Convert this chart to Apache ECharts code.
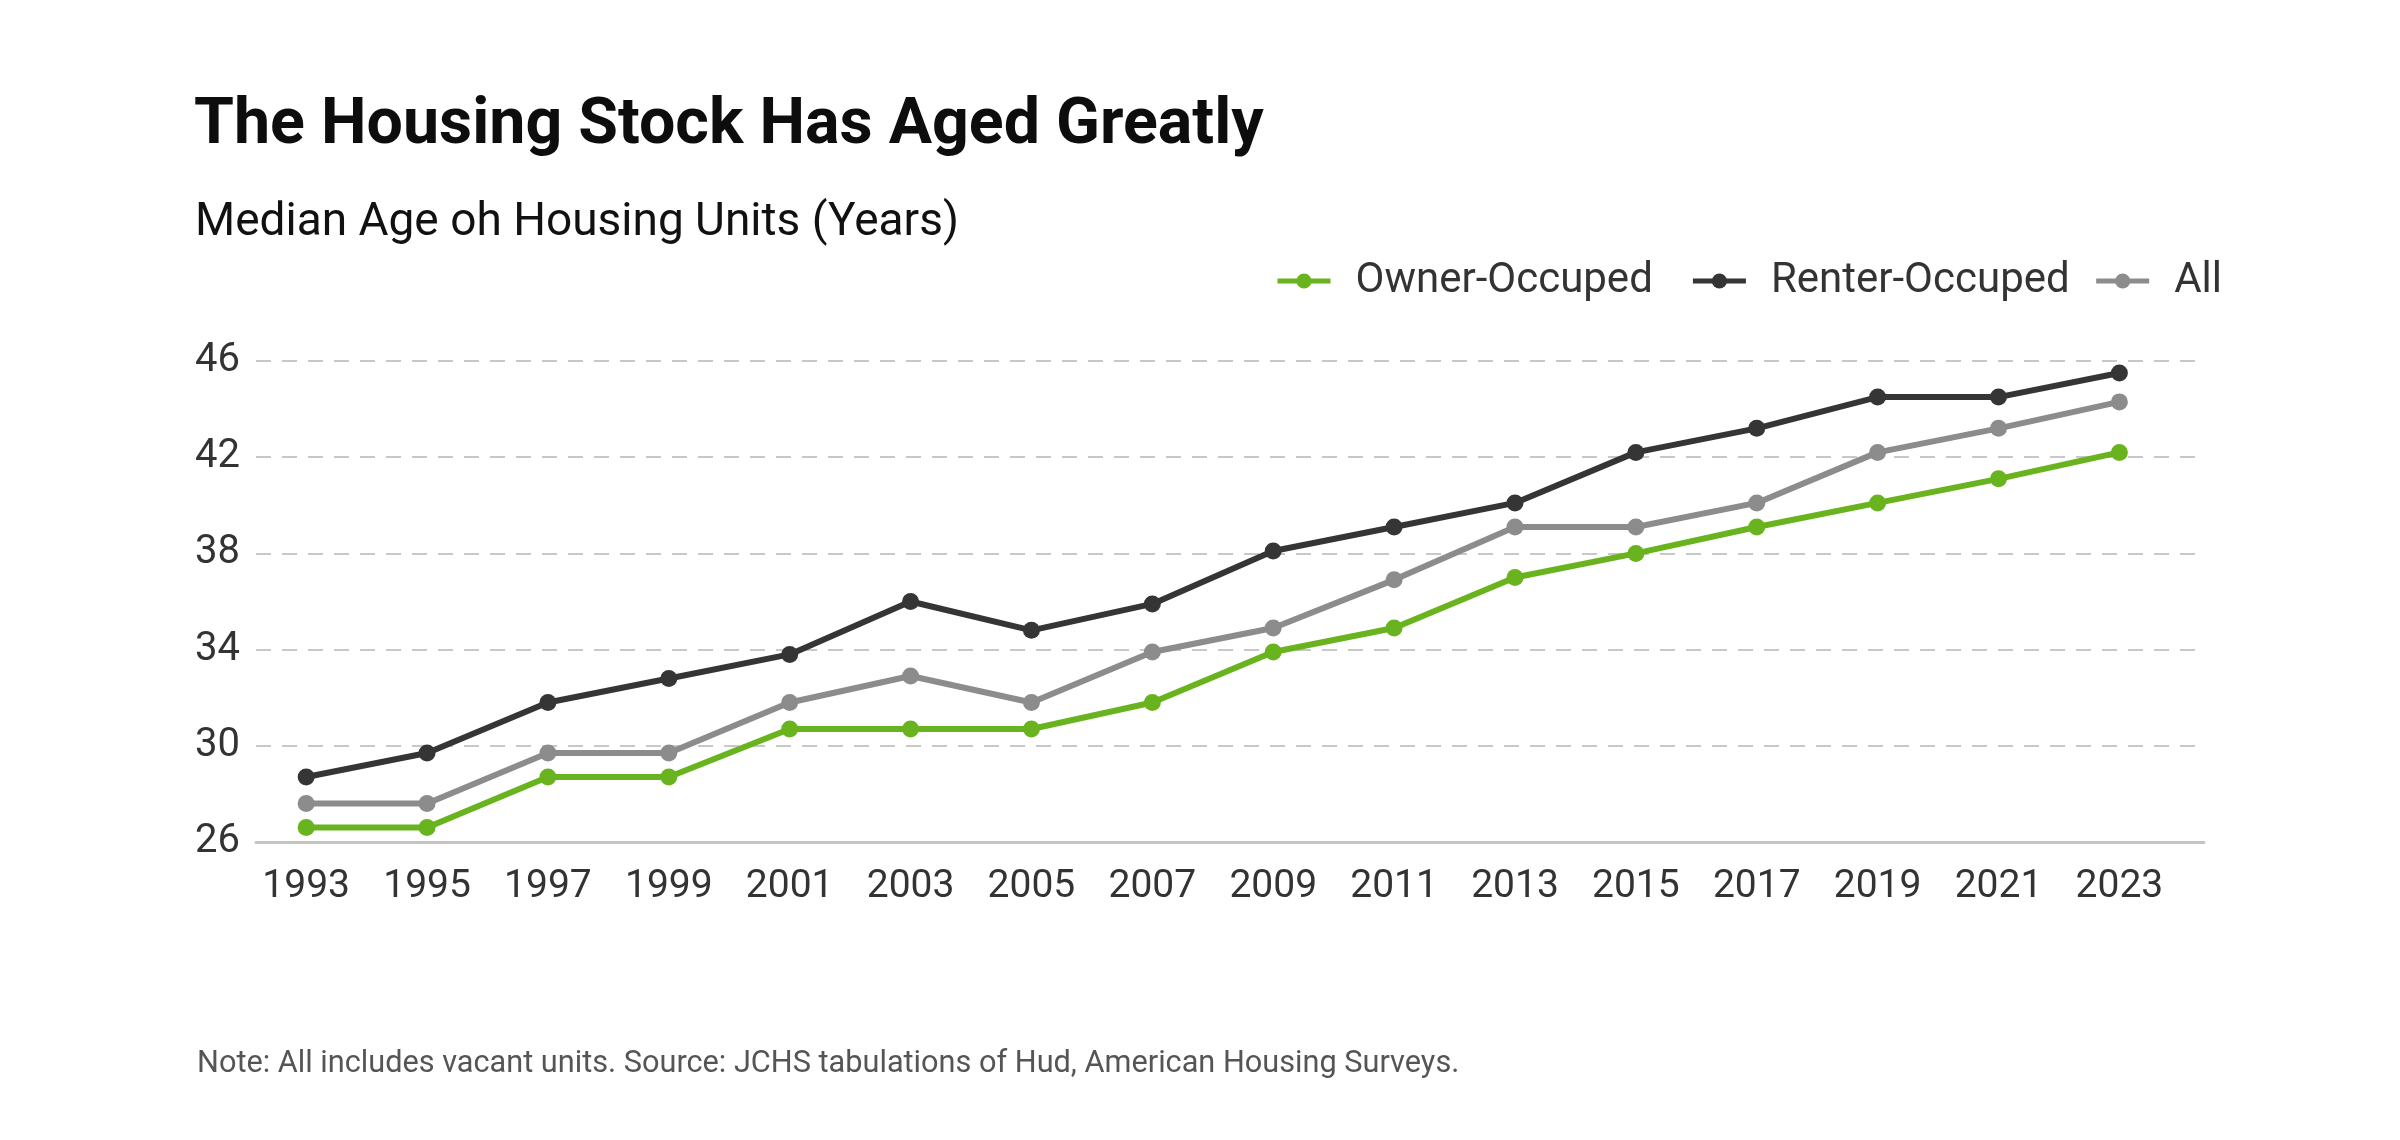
<!DOCTYPE html>
<html>
<head>
<meta charset="utf-8">
<style>
  html, body { margin: 0; padding: 0; background: #fff; }
  #main { width: 2400px; height: 1140px; }
</style>
<script src="https://cdn.jsdelivr.net/npm/echarts@6/dist/echarts.min.js"></script>
</head>
<body>
<div id="main"></div>
<script>
// data
var years = [1993, 1995, 1997, 1999, 2001, 2003, 2005, 2007, 2009, 2011, 2013, 2015, 2017, 2019, 2021, 2023];
var ownerOccupied  = [26.6, 26.6, 28.7, 28.7, 30.7, 30.7, 30.7, 31.8, 33.9, 34.9, 37.0, 38.0, 39.1, 40.1, 41.1, 42.2];
var renterOccupied = [28.7, 29.7, 31.8, 32.8, 33.8, 36.0, 34.8, 35.9, 38.1, 39.1, 40.1, 42.2, 43.2, 44.5, 44.5, 45.5];
var allUnits       = [27.6, 27.6, 29.7, 29.7, 31.8, 32.9, 31.8, 33.9, 34.9, 36.9, 39.1, 39.1, 40.1, 42.2, 43.2, 44.3];
var yTicks = [26, 30, 34, 38, 42, 46];

var FONT = 'Roboto';

function pairs(arr) {
    return arr.map(function (v, i) { return [years[i], v]; });
}

var myChart = echarts.init(document.getElementById('main'));

function lineSeries(name, color, data) {
    return {
        name: name,
        type: 'line',
        data: pairs(data),
        symbol: 'circle',
        symbolSize: 17,
        lineStyle: { width: 6, color: color },
        itemStyle: { color: color },
        emphasis: { disabled: true }
    };
}

// shared legend look; split in two so the gaps can differ like the original
var legendBase = {
    top: 255,
    itemWidth: 53,
    itemHeight: 19,
    itemGap: 24,
    lineStyle: { width: 5 },
    textStyle: { fontFamily: FONT, fontSize: 42, color: '#333', padding: [0, 0, 0, 20] }
};

var option = {
    animation: false,
    backgroundColor: '#fff',
    textStyle: { fontFamily: FONT },
    title: [
        {
            text: 'The Housing Stock Has Aged Greatly',
            left: 189,
            top: 89,
            textStyle: { fontFamily: FONT, fontSize: 64.5, fontWeight: 'bold', color: '#0d0d0d' }
        },
        {
            text: 'Median Age oh Housing Units (Years)',
            left: 190,
            top: 195,
            textStyle: { fontFamily: FONT, fontSize: 46, fontWeight: 'normal', color: '#111' }
        },
        {
            text: 'Note: All includes vacant units. Source: JCHS tabulations of Hud, American Housing Surveys.',
            left: 192,
            top: 1044,
            textStyle: { fontFamily: FONT, fontSize: 30.7, fontWeight: 'normal', color: '#555' }
        }
    ],
    legend: [
        Object.assign({}, legendBase, { left: 1270, data: ['Owner-Occuped'] }),
        Object.assign({}, legendBase, { right: 173, data: ['Renter-Occuped', 'All'] })
    ],
    grid: {
        left: 256,
        right: 196,
        top: 361,
        bottom: 298
    },
    xAxis: {
        type: 'value',
        min: 1992.17,
        max: 2024.4,
        splitLine: { show: false },
        axisTick: { show: false },
        axisLine: { show: true, lineStyle: { color: '#c4c4c4', width: 3 } },
        axisLabel: {
            customValues: years,
            formatter: function (v) { return String(v); },
            fontFamily: FONT,
            fontSize: 39,
            color: '#333',
            margin: 26
        }
    },
    yAxis: {
        type: 'value',
        min: 26,
        max: 46,
        interval: 4,
        axisLine: { show: false },
        axisTick: { show: false },
        axisLabel: {
            fontFamily: FONT,
            fontSize: 40,
            color: '#333',
            margin: 16
        },
        splitLine: {
            show: true,
            lineStyle: { color: '#c8c8c8', width: 2, type: [15, 11] }
        }
    },
    series: [
        lineSeries('Owner-Occuped', '#69b41e', ownerOccupied),
        lineSeries('Renter-Occuped', '#353535', renterOccupied),
        lineSeries('All', '#8c8c8c', allUnits)
    ]
};

myChart.setOption(option);
</script>
</body>
</html>
